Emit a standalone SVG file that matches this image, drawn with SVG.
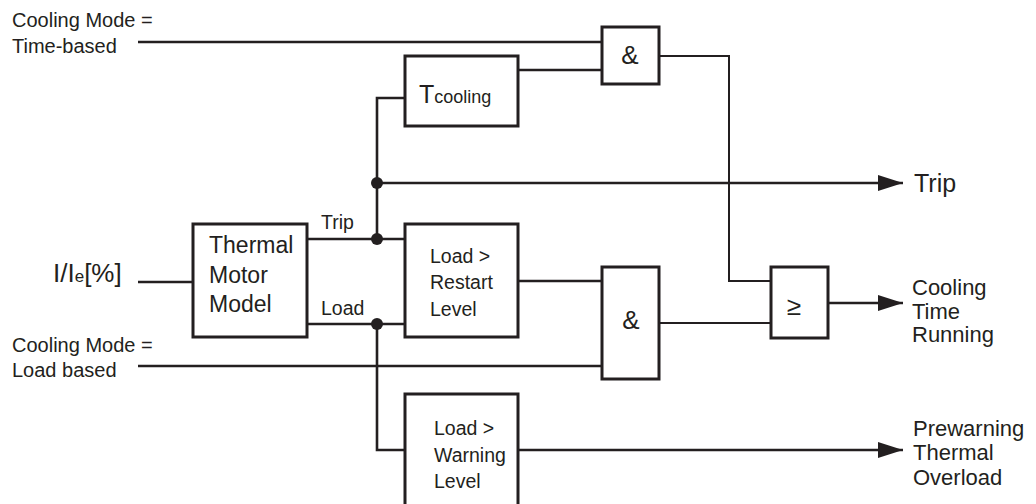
<svg xmlns="http://www.w3.org/2000/svg" width="1036" height="504" viewBox="0 0 1036 504">
<defs>
<style>
.box{fill:#fff;stroke:#231f20;stroke-width:3}
.ln{fill:none;stroke:#231f20;stroke-width:2.6}
.thin{fill:none;stroke:#231f20;stroke-width:2}
.dot{fill:#231f20}
text{font-family:"Liberation Sans",Arial,sans-serif;fill:#231f20}
.lab{font-size:19.5px}
.mode{font-size:20px}
.blk{font-size:23px}
.out{font-size:22px}
.sym{font-size:26px;text-anchor:middle}
</style>
<marker id="arr" markerUnits="userSpaceOnUse" markerWidth="26" markerHeight="18" refX="25" refY="8" orient="auto">
<path d="M0,0 L25,8 L0,16 z" fill="#231f20"/>
</marker>
</defs>
<rect width="1036" height="504" fill="#fff"/>
<g id="connectors">
<path class="ln" d="M138,42 H602"/>
<path class="ln" d="M518,70 H602"/>
<path class="thin" d="M659,56 H729 V281 H771"/>
<path class="ln" d="M405,98 H377 V239"/>
<path class="ln" d="M377,183 H903" marker-end="url(#arr)"/>
<path class="ln" d="M307,239 H405"/>
<path class="ln" d="M307,324 H405"/>
<path class="ln" d="M377,324 V450 H405"/>
<path class="ln" d="M138,282 H193"/>
<path class="ln" d="M138,366 H602"/>
<path class="ln" d="M518,281 H602"/>
<path class="thin" d="M659,323 H771"/>
<path class="ln" d="M828,303 H903" marker-end="url(#arr)"/>
<path class="ln" d="M518,450 H903" marker-end="url(#arr)"/>
<circle class="dot" cx="377" cy="183" r="6"/>
<circle class="dot" cx="377" cy="239" r="6"/>
<circle class="dot" cx="377" cy="324" r="6"/>
</g>
<g id="in-time">
<text class="mode" x="12" y="27">Cooling Mode =</text>
<text class="mode" x="12" y="53">Time-based</text>
</g>
<g id="in-load">
<text class="mode" x="12" y="352">Cooling Mode =</text>
<text class="mode" x="12" y="377">Load based</text>
</g>
<g id="in-current">
<text x="53" y="282" font-size="26">I/I<tspan font-size="17">e</tspan>[%]</text>
</g>
<g id="thermal">
<rect class="box" x="193" y="224" width="114" height="113"/>
<text class="blk" x="209" y="253">Thermal</text>
<text class="blk" x="209" y="283">Motor</text>
<text class="blk" x="209" y="312">Model</text>
<text class="lab" x="321" y="229">Trip</text>
<text class="lab" x="321" y="315">Load</text>
</g>
<g id="tcooling">
<rect class="box" x="405" y="56" width="113" height="70"/>
<text x="419" y="103" font-size="25">T<tspan font-size="18">cooling</tspan></text>
</g>
<g id="and1">
<rect class="box" x="602" y="27" width="57" height="57"/>
<text class="sym" x="630" y="64">&amp;</text>
</g>
<g id="restart">
<rect class="box" x="405" y="224" width="113" height="113"/>
<text class="lab" x="430" y="263">Load &gt;</text>
<text class="lab" x="430" y="289">Restart</text>
<text class="lab" x="430" y="316">Level</text>
</g>
<g id="and2">
<rect class="box" x="602" y="267" width="57" height="112"/>
<text class="sym" x="631" y="329">&amp;</text>
</g>
<g id="or">
<rect class="box" x="771" y="267" width="57" height="71"/>
<text class="sym" x="794" y="315" font-size="32">≥</text>
</g>
<g id="warning">
<rect class="box" x="405" y="394" width="113" height="120"/>
<text class="lab" x="434" y="435">Load &gt;</text>
<text class="lab" x="434" y="462">Warning</text>
<text class="lab" x="434" y="488">Level</text>
</g>
<g id="out-trip">
<text x="914" y="192" font-size="25">Trip</text>
</g>
<g id="out-cooling">
<text class="out" x="912" y="295">Cooling</text>
<text class="out" x="912" y="319">Time</text>
<text class="out" x="912" y="342">Running</text>
</g>
<g id="out-prewarning">
<text class="out" x="913" y="436">Prewarning</text>
<text class="out" x="913" y="460">Thermal</text>
<text class="out" x="913" y="485">Overload</text>
</g>
</svg>
